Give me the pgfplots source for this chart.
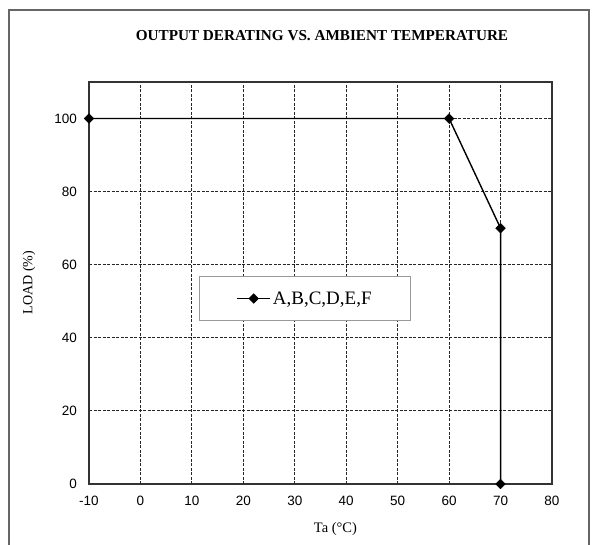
\documentclass[border=0pt]{standalone}
\usepackage{pgfplots}
\pgfplotsset{compat=1.18}
\usepackage{fontspec}
\setmainfont{Liberation Serif}
\newfontfamily\arial{Liberation Sans}
\begin{document}
\begin{tikzpicture}[x=1pt,y=1pt]
\useasboundingbox (0,0) rectangle (594,544);
\draw[black!60, line width=1.2pt] (9,-5) rectangle (589,534);
\node[font=\fontsize{15.2}{18}\selectfont\bfseries, anchor=base] at (322,503) {OUTPUT DERATING VS. AMBIENT TEMPERATURE};
\begin{axis}[
  at={(89pt,60pt)}, anchor=south west,
  scale only axis, width=463pt, height=402pt,
  xmin=-10, xmax=80, ymin=0, ymax=110,
  xtick={-10,0,10,20,30,40,50,60,70,80},
  xticklabels={-10,0,10,20,30,40,50,60,70,80},
  ytick={0,20,40,60,80,100},
  yticklabels={0,20,40,60,80,100},
  major tick length=0pt,
  grid=major,
  grid style={black!85, line width=0.9pt, dash pattern=on 3pt off 1.5pt},
  axis line style={black!80, line width=1.5pt},
  clip=false,
  xticklabel style={font=\arial\fontsize{13.5}{16}\selectfont, inner sep=0pt, anchor=north, yshift=-12pt},
  yticklabel style={font=\arial\fontsize{13.5}{16}\selectfont, inner sep=0pt, anchor=east, xshift=-12pt},
  xlabel={Ta (°C)},
  ylabel={LOAD (\%)},
  every axis x label/.style={at={(axis cs:37.9,-12.3)}, anchor=center, font=\fontsize{14.5}{17}\selectfont},
  every axis y label/.style={at={(axis cs:-21.66,55.1)}, anchor=center, rotate=90, font=\fontsize{14}{17}\selectfont},
  legend style={at={(axis cs:32,50.75)}, anchor=center, draw=black!40, fill=white, line width=0.8pt,
    inner xsep=37pt, inner ysep=13pt, font=\fontsize{19}{22}\selectfont},
  legend cell align=left,
  legend image code/.code={\draw[mark repeat=2,mark phase=2,#1] plot coordinates {(0pt,0pt) (16.5pt,0pt) (33pt,0pt)};},
]
\addplot[black, line width=1.4pt, mark=square*, mark size=3.4pt, mark options={solid, rotate=45, line width=0.5pt}]
  coordinates {(-10,100) (60,100) (70,70) (70,0)};
\addlegendentry{A,B,C,D,E,F}
\end{axis}
\end{tikzpicture}
\end{document}
